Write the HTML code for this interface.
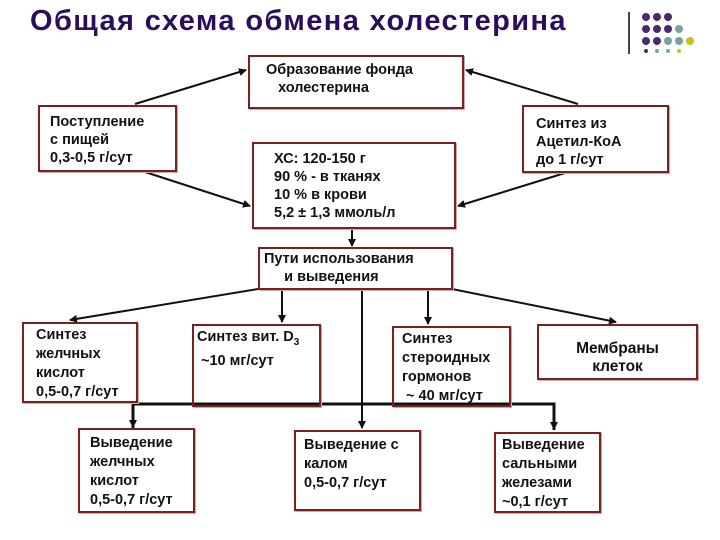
<!DOCTYPE html><html><head><meta charset="utf-8"><style>
body{margin:0;width:720px;height:540px;background:#fff;position:relative;overflow:hidden;font-family:"Liberation Sans",Arial,sans-serif}
.b{position:absolute;border:2px solid #7a2020;box-sizing:border-box;font-weight:bold;font-size:14.5px;line-height:18px;color:#111;padding:4px 8px;box-shadow:1px 1px 0 #caa}
h1{position:absolute;left:30px;top:5px;margin:0;font-size:29px;color:#2b0d5e;font-weight:bold;letter-spacing:1.4px}
</style></head><body>
<h1>Общая схема обмена холестерина</h1>
<div style="position:absolute;left:628px;top:12px;width:2px;height:42px;background:#444"></div>
<svg style="position:absolute;left:0;top:0" width="720" height="540">
<g fill="#4a2a6a"><circle cx="646" cy="17" r="4"/><circle cx="657" cy="17" r="4"/><circle cx="668" cy="17" r="4"/>
<circle cx="646" cy="29" r="4"/><circle cx="657" cy="29" r="4"/><circle cx="668" cy="29" r="4"/>
<circle cx="646" cy="41" r="4"/><circle cx="657" cy="41" r="4"/></g>
<g fill="#7aa0a0"><circle cx="679" cy="29" r="4"/><circle cx="668" cy="41" r="4"/><circle cx="679" cy="41" r="4"/><circle cx="657" cy="51" r="2"/><circle cx="668" cy="51" r="2"/></g>
<circle cx="690" cy="41" r="4" fill="#c8c020"/><circle cx="679" cy="51" r="2" fill="#c8c020"/><circle cx="646" cy="51" r="2" fill="#4a2a6a"/>
<defs><marker id="a" markerWidth="8" markerHeight="8" refX="7" refY="4" orient="auto" markerUnits="userSpaceOnUse"><path d="M0,0L8,4L0,8z" fill="#111"/></marker></defs>
<g stroke="#111" stroke-width="2" fill="none">
<line x1="135" y1="104" x2="246" y2="70" marker-end="url(#a)"/>
<line x1="578" y1="104" x2="466" y2="70" marker-end="url(#a)"/>
<line x1="145" y1="172" x2="250" y2="206" marker-end="url(#a)"/>
<line x1="565" y1="173" x2="458" y2="206" marker-end="url(#a)"/>
<line x1="352" y1="228" x2="352" y2="246" marker-end="url(#a)"/>
<line x1="258" y1="289" x2="70" y2="320" marker-end="url(#a)"/>
<line x1="282" y1="289" x2="282" y2="322" marker-end="url(#a)"/>
<line x1="428" y1="289" x2="428" y2="324" marker-end="url(#a)"/>
<line x1="452" y1="289" x2="616" y2="322" marker-end="url(#a)"/>
<line x1="362" y1="290" x2="362" y2="428" marker-end="url(#a)"/>
<polyline points="133,428 133,404 554,404 554,430" stroke-width="3"/>
</g>
<path d="M129,420L133,428L137,420z M550,422L554,430L558,422z" fill="#111"/>
</svg>
<div class="b" style="left:248px;top:55px;width:216px;height:54px;padding-left:16px">Образование фонда<br>&nbsp;&nbsp;&nbsp;холестерина</div>
<div class="b" style="left:38px;top:105px;width:139px;height:67px;padding:6px 10px">Поступление<br>с пищей<br>0,3-0,5 г/сут</div>
<div class="b" style="left:522px;top:105px;width:147px;height:68px;padding:8px 12px">Синтез из<br>Ацетил-КоА<br>до 1 г/сут</div>
<div class="b" style="left:252px;top:142px;width:204px;height:87px;padding:6px 20px">ХС: 120-150 г<br>90 % - в тканях<br>10 % в крови<br>5,2 ± 1,3 ммоль/л</div>
<div class="b" style="left:258px;top:247px;width:195px;height:43px;padding:1px 4px">Пути использования<br>&nbsp;&nbsp;&nbsp;&nbsp;&nbsp;и выведения</div>
<div class="b" style="left:22px;top:322px;width:116px;height:81px;padding:2px 12px;line-height:19px">Синтез<br>желчных<br>кислот<br>0,5-0,7 г/сут</div>
<div class="b" style="left:192px;top:324px;width:129px;height:83px;padding:2px 3px">Синтез вит. D<sub style="font-size:10px">3</sub><br>&nbsp;~10 мг/сут</div>
<div class="b" style="left:392px;top:326px;width:119px;height:81px;padding:2px 8px;line-height:19px">Синтез<br>стероидных<br>гормонов<br>&nbsp;~ 40 мг/сут</div>
<div class="b" style="left:537px;top:324px;width:161px;height:56px;padding:14px 0;text-align:center;font-size:15.5px">Мембраны<br>клеток</div>
<div class="b" style="left:78px;top:428px;width:117px;height:85px;padding:4px 10px;line-height:19px">Выведение<br>желчных<br>кислот<br>0,5-0,7 г/сут</div>
<div class="b" style="left:294px;top:430px;width:127px;height:81px;padding:4px 8px;line-height:19px">Выведение с<br>калом<br>0,5-0,7 г/сут</div>
<div class="b" style="left:494px;top:432px;width:107px;height:81px;padding:2px 6px;line-height:19px">Выведение<br>сальными<br>железами<br>~0,1 г/сут</div>
</body></html>
